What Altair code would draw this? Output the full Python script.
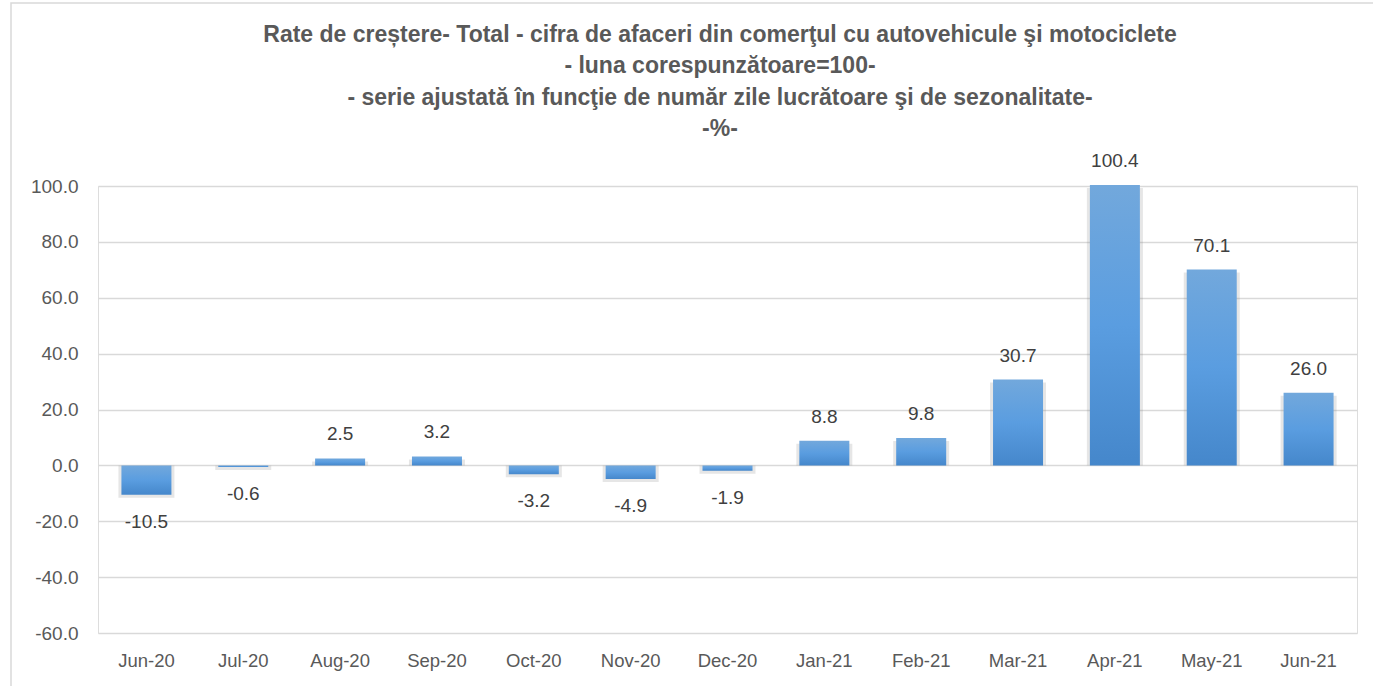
import altair as alt
import pandas as pd

months = ["Jun-20", "Jul-20", "Aug-20", "Sep-20", "Oct-20", "Nov-20", "Dec-20",
          "Jan-21", "Feb-21", "Mar-21", "Apr-21", "May-21", "Jun-21"]
values = [-10.5, -0.6, 2.5, 3.2, -3.2, -4.9, -1.9, 8.8, 9.8, 30.7, 100.4, 70.1, 26.0]

title_lines = [
    "Rate de creștere- Total - cifra de afaceri din comerţul cu autovehicule şi motociclete",
    "- luna corespunzătoare=100-",
    "- serie ajustată în funcţie de număr zile lucrătoare şi de sezonalitate-",
    "-%-",
]

df = pd.DataFrame({"month": months, "value": values})

FONT = "Liberation Sans"
MINUS = "\u2212"

x_enc = alt.X("month:N", sort=months, title=None,
              axis=alt.Axis(labelAngle=0, labelFontSize=18.5, labelColor="#595959",
                            labelFont=FONT, labelPadding=18, domain=False, ticks=False,
                            grid=False))
y_scale = alt.Scale(domain=[-60, 100], nice=False)

base = alt.Chart(df)

shadow = base.mark_bar(color="#808080", opacity=0.2, size=56, yOffset=3).encode(
    x=x_enc, y=alt.Y("value:Q", scale=y_scale), y2=alt.datum(0))

bars = base.mark_bar(
    size=50,
    color=alt.Gradient(
        gradient="linear", x1=0, x2=0, y1=0, y2=1,
        stops=[alt.GradientStop(color="#72a8dc", offset=0),
               alt.GradientStop(color="#5a9de0", offset=0.5),
               alt.GradientStop(color="#4587cb", offset=1)],
    ),
).encode(
    x=x_enc,
    y=alt.Y("value:Q", scale=y_scale, title=None,
            axis=alt.Axis(values=[-60, -40, -20, 0, 20, 40, 60, 80, 100],
                          labelExpr=f"replace(format(datum.value, '.1f'), '{MINUS}', '-')",
                          labelFontSize=19, labelColor="#595959", labelFont=FONT,
                          labelPadding=20, domain=False, ticks=False,
                          gridColor="#d9d9d9", gridWidth=1.3)),
    y2=alt.datum(0),
)

label_calc = f"replace(format(datum.value, '.1f'), '{MINUS}', '-')"

pos_labels = base.transform_filter("datum.value >= 0").transform_calculate(
    label=label_calc).mark_text(
    baseline="middle", dy=-24, fontSize=19, color="#404040", font=FONT
).encode(x=x_enc, y=alt.Y("value:Q", scale=y_scale), text="label:N")

neg_labels = base.transform_filter("datum.value < 0").transform_calculate(
    label=label_calc).mark_text(
    baseline="middle", dy=27, fontSize=19, color="#404040", font=FONT
).encode(x=x_enc, y=alt.Y("value:Q", scale=y_scale), text="label:N")

one = pd.DataFrame({"a": [0]})

frame = alt.Chart(one).mark_rect(
    fill=None, stroke="#d9d9d9", strokeWidth=1.5
).encode(x=alt.value(-87), x2=alt.value(1290), y=alt.value(-183), y2=alt.value(520))

title = alt.Chart(one).mark_text(
    text=title_lines, align="center", baseline="alphabetic", lineHeight=31.3,
    fontSize=23, font=FONT, fontWeight="bold", color="#595959"
).encode(x=alt.value(622), y=alt.value(-144))

chart = alt.layer(frame, shadow, bars, pos_labels, neg_labels, title).properties(
    width=1259, height=447,
    autosize=alt.AutoSizeParams(type="none"),
    padding={"left": 98, "top": 186, "right": 16, "bottom": 53},
).configure_view(stroke=None).configure(background="white")

chart.save("out.html", embed_options={"renderer": "svg", "actions": False})
